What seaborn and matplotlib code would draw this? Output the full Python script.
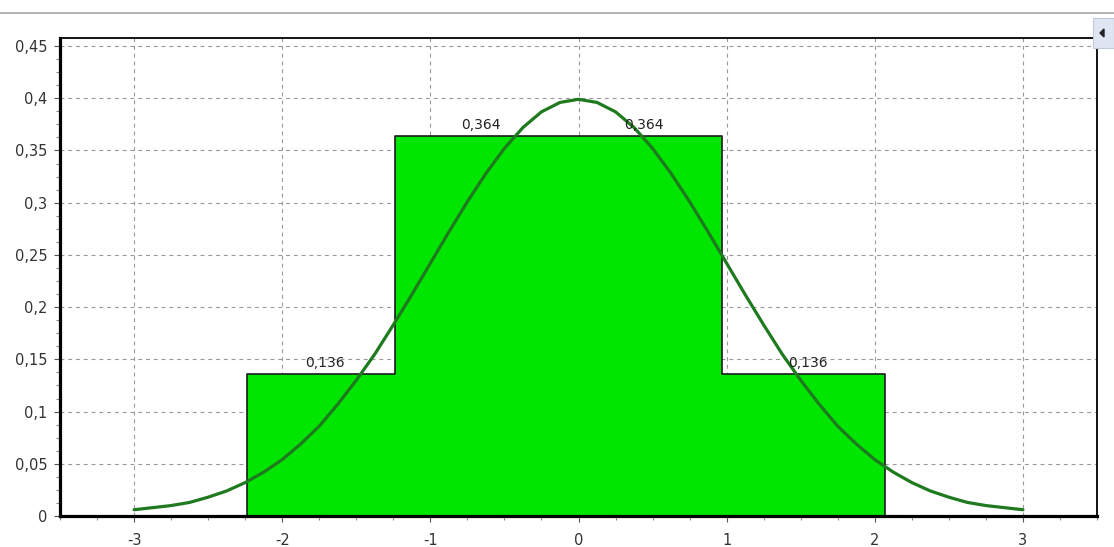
import matplotlib
matplotlib.use("Agg")
import matplotlib.pyplot as plt
import seaborn as sns
from matplotlib.ticker import MultipleLocator, AutoMinorLocator, FuncFormatter
from matplotlib.patches import Rectangle, Polygon
from matplotlib.lines import Line2D

# ---------- Data ----------
bin_edges = [-2.24, -1.24, -0.14, 0.97, 2.07]
bin_heights = [0.136, 0.364, 0.364, 0.136]
bin_labels = ["0,136", "0,364", "0,364", "0,136"]

curve_x = [-3.0, -2.875, -2.75, -2.625, -2.5, -2.375, -2.25, -2.125, -2.0, -1.875,
           -1.75, -1.625, -1.5, -1.375, -1.25, -1.125, -1.0, -0.875, -0.75, -0.625,
           -0.5, -0.375, -0.25, -0.125, 0.0,
           0.125, 0.25, 0.375, 0.5, 0.625, 0.75, 0.875, 1.0, 1.125, 1.25,
           1.375, 1.5, 1.625, 1.75, 1.875, 2.0, 2.125, 2.25, 2.375, 2.5,
           2.625, 2.75, 2.875, 3.0]
curve_y = [0.006, 0.008, 0.010, 0.013, 0.018, 0.024, 0.032, 0.042, 0.054, 0.069,
           0.086, 0.107, 0.130, 0.155, 0.183, 0.212, 0.242, 0.272, 0.301, 0.328,
           0.352, 0.372, 0.387, 0.396, 0.399,
           0.396, 0.387, 0.372, 0.352, 0.328, 0.301, 0.272, 0.242, 0.212, 0.183,
           0.155, 0.130, 0.107, 0.086, 0.069, 0.054, 0.042, 0.032, 0.024, 0.018,
           0.013, 0.010, 0.008, 0.006]

x_ticks = [-3, -2, -1, 0, 1, 2, 3]

# ---------- Style ----------
sns.set_style("white")
plt.rcParams["font.family"] = ["DejaVu Sans"]

fig = plt.figure(figsize=(11.14, 5.47), dpi=100)
ax = fig.add_axes([60 / 1114, 31 / 547, 1037 / 1114, 478 / 547])

centers = [(a + b) / 2 for a, b in zip(bin_edges[:-1], bin_edges[1:])]
sns.histplot(x=centers, weights=bin_heights, bins=bin_edges, stat="count",
             element="step", fill=True, color="#00e600", alpha=1,
             edgecolor="#1a1a1a", linewidth=1.2, ax=ax, zorder=2)

sns.lineplot(x=curve_x, y=curve_y, color="#1f7a1f", linewidth=2.3, ax=ax, zorder=3)

for c, h, lab in zip(centers, bin_heights, bin_labels):
    ax.annotate(lab, (c, h), xytext=(3, 3), textcoords="offset points",
                ha="center", va="bottom", fontsize=10, color="#222222", zorder=4)

ax.set_xlim(-3.5, 3.5)
ax.set_ylim(0, 0.4577)
ax.set_xlabel("")
ax.set_ylabel("")

ax.xaxis.set_major_locator(MultipleLocator(1))
ax.xaxis.set_minor_locator(AutoMinorLocator(4))
ax.yaxis.set_major_locator(MultipleLocator(0.05))
ax.yaxis.set_minor_locator(AutoMinorLocator(4))
ax.set_xticks(x_ticks)
comma = FuncFormatter(lambda v, p: ("%g" % round(v, 3)).replace(".", ","))
ax.xaxis.set_major_formatter(comma)
ax.yaxis.set_major_formatter(comma)

ax.tick_params(axis="both", which="major", direction="out", length=4, width=0.8,
               color="#555555", labelsize=10.5, labelcolor="#333333", pad=5,
               bottom=True, left=True)
ax.tick_params(axis="both", which="minor", direction="out", length=3, width=0.8,
               color="#888888", bottom=True, left=True)
ax.tick_params(axis="x", which="major", pad=8)

ax.grid(True, which="major", color="#999999", linestyle=(0, (3.5, 3.5)), linewidth=0.8)
ax.set_axisbelow(True)

for side in ["left", "bottom"]:
    ax.spines[side].set_linewidth(2.3)
    ax.spines[side].set_color("black")
for side in ["top", "right"]:
    ax.spines[side].set_linewidth(1.3)
    ax.spines[side].set_color("black")
    ax.spines[side].set_visible(True)

# window chrome: top rule and small scroll button
fig.add_artist(Line2D([0, 1], [1 - 13 / 547, 1 - 13 / 547], color="#a6a6a6", linewidth=1.2))
fig.add_artist(Rectangle((1093 / 1114, 1 - 48 / 547), 21 / 1114, 30 / 547,
                         facecolor="#dfe5f3", edgecolor="#c0c8dc", linewidth=0.8))
fig.add_artist(Polygon([(1100 / 1114, 1 - 33 / 547), (1104 / 1114, 1 - 29 / 547),
                        (1104 / 1114, 1 - 37 / 547)], closed=True, color="#222222"))

fig.savefig("out.png", dpi=100)
